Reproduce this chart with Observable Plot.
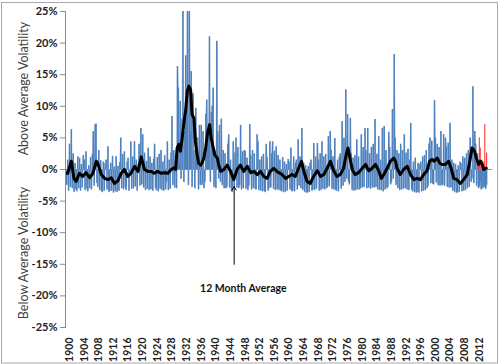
<!DOCTYPE html>
<html><head><meta charset="utf-8">
<script src="https://cdn.jsdelivr.net/npm/d3@7"></script>
<script src="https://cdn.jsdelivr.net/npm/@observablehq/plot@0.6"></script>
<style>
body{margin:0;background:#fff}
#chart{width:500px;height:364px}
</style></head><body><div id="chart"></div>
<script>
// Monthly-ish deviations of volatility from average (%), quarterly samples starting 1899.25
const blueStart = 1899.25, blueStep = 0.25;
const blueVals = [
 -2.5, 1.5, -3.4,
 4.0, -2.8, 6.3, -3.0,  2.5, -3.6, 1.0, -3.2,  -3.5, 2.0, -3.0, 1.8,  -3.4, 0.8, -2.9, 2.2,
 1.5, -3.3, 2.8, -3.1,  -3.5, 0.6, -3.0, 1.9,  -3.2, 2.4, 6.0, -2.6,  7.1, 7.2, -2.2, -2.8,
 3.0, -3.3, 1.4, -3.5,  -3.6, 1.2, -3.4, 0.9,  1.5, -3.2, 3.6, -3.6,  -3.5, 1.0, -3.4, 2.1,
 -3.7, 0.4, -3.5, 2.0,  -3.6, 0.5, -3.4, 1.1,  5.0, -3.0, 2.4, -3.2,  2.8, -2.9, -3.3, 1.2,
 1.8, -3.4, -1.0, 4.4,  -3.1, 2.0, -3.0, 4.4,  -2.7, 1.5, -3.4, 0.8,  4.0, -2.6, 6.5, -2.4,
 5.5, -2.9, 2.6, -3.3,  1.3, -3.1, 3.4, -3.3,  2.0, -3.2, 1.0, -3.4,  1.6, 4.0, -3.0, -3.3,
 1.9, -3.5, 2.4, -3.1,  3.0, -3.3, 1.2, -3.4,  2.2, -3.2, -2.0, 4.4,  -3.3, 1.5, -3.1, 2.6,
 8.4, -2.5, 3.0, -2.9,  2.0, -3.0, 16.3, 12.9,  1.0, 10.8, -1.5, 8.0,  30, -2.0, 6.0, 18.0,
 8.0, 30, -2.5, 28,  6.0, 15.5, -2.8, 12.0,  3.0, -3.0, 9.7, 1.5,  5.0, -3.2, 7.0, -2.5,
 7.0, -2.5, 6.0, -3.0,  -2.0, 8.7, 11.0, 4.0,  5.0, 21.0, -2.0, 9.0,  10.0, 12.9, -2.8, 3.0,
 -3.0, 20.3, 6.0, -1.5,  7.0, -2.0, 8.0, -2.5,  3.0, -3.0, 2.5, -3.0,  -2.8, 4.0, 5.5, -2.9,
 1.5, -3.5, -3.6, 4.4,  -2.7, 2.6, 5.0, -2.9,  3.5, -3.0, -2.5, 7.0,  -3.2, 2.8, -3.0, 3.0,
 2.9, -3.1, 1.8, -3.3,  -2.6, 7.1, 2.2, -3.2,  3.0, -3.0, 2.5, -3.1,  -3.2, 5.5, 4.4, -3.3,
 1.5, -3.4, 2.0, -3.5,  2.4, -3.5, -3.6, 4.0,  1.8, -3.4, -3.0, 4.4,  -2.9, 2.5, 4.4, -3.1,
 2.9, -3.3, 3.6, -3.2,  2.2, -3.3, 1.5, -3.4,  -3.5, 1.9, -3.6, 1.2,  -3.6, 0.8, -3.4, 1.6,
 1.2, -3.2, 3.4, -3.5,  -3.4, 2.0, -3.5, 1.0,  1.5, -3.2, 4.7, -2.6,  2.0, -3.0, 6.5, -3.3,
 1.0, -3.6, 0.6, -3.7,  -3.7, 0.5, -3.6, 1.0,  1.5, -3.4, -3.2, 4.1,  -3.3, 2.0, -3.1, 4.1,
 1.5, -3.4, 2.5, -3.3,  4.4, -3.1, 2.0, -3.2,  2.4, -3.0, -2.8, 5.2,  -2.7, 6.0, 3.0, -3.1,
 2.0, -3.2, 4.9, -3.3,  -3.4, 1.5, -3.5, 2.0,  2.5, -3.1, 7.6, -2.6,  5.0, -2.0, 12.6, -1.5,
 8.7, -2.0, -2.4, 8.1,  2.5, -3.3, 1.8, -3.4,  2.2, -3.3, 4.7, -3.2,  2.0, -3.2, -3.0, 5.5,
 -2.9, 3.5, -2.8, 6.5,  3.0, -3.0, 6.5, -2.9,  2.5, -3.1, 3.5, -2.9,  4.0, -2.9, 7.9, -2.8,
 2.4, -3.2, 5.2, -3.3,  1.5, -3.3, 6.5, -3.5,  6.8, -3.2, 3.0, -3.0,  -2.8, 5.9, 3.5, -2.4,
 -2.0, 9.5, -1.5, 18.2,  5.0, -2.5, 3.0, -3.0,  2.5, -3.3, 4.0, -3.2,  3.0, -3.1, 5.5, -3.0,
 2.6, -3.2, 3.2, -3.3,  1.5, 7.3, -3.2, -3.5,  1.2, -3.6, 1.8, -3.7,  -3.6, 1.0, -3.7, 0.8,
 1.2, -3.5, 2.0, -3.4,  2.2, -3.3, 3.0, -3.0,  -2.6, 4.0, 5.0, -2.2,  4.5, -2.3, -2.4, 10.9,
 5.0, -2.1, 4.0, -2.5,  3.5, -2.6, 6.0, -2.5,  -2.5, 5.5, -2.6, 5.0,  3.6, -2.8, 4.2, -2.9,
 7.3, -2.9, 1.5, -3.4,  1.0, -3.6, 0.8, -3.7,  -3.7, 0.6, -3.6, 1.2,  0.9, -3.5, 2.0, -3.4,
 1.8, -3.3, 2.5, -3.0,  3.0, -2.8, 5.0, -2.0,  -1.5, 13.1, -2.2, 6.0,  4.0, -2.6, 2.5, -3.0,
 -2.8, -2.0, -3.2, -2.9,  -3.0, -2.6, -2.8, -3.1,
 -2.5
];
// 12 month average
const blackYear = [1899.2,1899.5,1900.5,1901.2,1901.8,1902.7,1903.6,1904.5,1905.5,1906.4,1907.3,1907.7,1908.7,1909.6,1910.5,1911.4,1912.3,1913.2,1914.1,1915.0,1915.9,1916.8,1917.8,1918.7,1919.6,1920.5,1921.4,1922.3,1923.2,1924.1,1925.0,1926.0,1926.9,1927.8,1928.7,1929.0,1929.4,1929.9,1930.3,1930.8,1931.2,1931.7,1932.2,1932.6,1933.1,1933.5,1934.0,1934.4,1934.9,1935.3,1935.8,1936.2,1936.7,1937.2,1937.8,1938.3,1938.7,1939.3,1939.7,1940.4,1940.8,1941.3,1942.2,1943.1,1944.0,1944.9,1945.8,1946.7,1947.6,1948.6,1949.5,1950.4,1951.3,1952.2,1953.1,1954.0,1954.9,1955.8,1956.7,1957.2,1958.1,1959.0,1959.9,1960.8,1961.7,1962.6,1963.4,1964.0,1964.9,1965.8,1966.7,1967.7,1968.6,1969.5,1970.4,1971.3,1972.2,1973.1,1974.0,1974.9,1975.6,1976.1,1976.8,1977.4,1978.1,1979.0,1980.0,1980.9,1981.8,1982.7,1983.6,1984.5,1985.2,1985.9,1986.8,1987.7,1988.6,1989.1,1989.5,1990.4,1991.3,1992.3,1993.2,1994.1,1995.0,1995.9,1996.8,1997.7,1998.4,1999.1,1999.7,2000.5,2001.2,2001.8,2002.7,2003.6,2004.3,2005.0,2005.9,2006.8,2007.7,2008.7,2009.4,2010.0,2010.7,2011.2,2011.8,2012.3,2012.8,2013.2,2013.9];
const blackVal = [-0.6,-0.6,1.3,-1.4,-1.9,-0.6,-1.1,-0.5,-1.3,-0.6,1.3,1.0,-0.8,-1.4,-1.6,-1.3,-2.2,-1.8,-0.6,0.0,-1.1,-0.6,0.5,-0.3,2.0,0.0,-0.3,-0.3,-0.6,-0.3,-0.6,-0.5,-0.6,0.0,0.3,0.0,3.4,4.0,2.9,5.0,7.1,9.2,12.4,13.2,12.6,8.7,8.1,4.4,2.3,1.0,0.7,1.0,1.8,3.4,6.0,7.1,5.0,3.4,2.3,1.8,0.7,-0.3,0.0,0.7,-0.3,-1.6,0.0,0.7,-0.3,0.5,-0.5,-0.3,-0.8,-0.3,-1.1,-1.4,-0.3,0.2,-0.3,-0.5,-0.8,-1.4,-1.1,-0.8,-1.1,0.2,1.3,-0.2,-1.9,-2.2,-1.1,-0.2,-1.1,-0.8,0.2,1.3,-0.2,-1.1,-0.8,0.2,2.3,3.4,1.3,-0.2,-0.8,-0.5,0.2,0.8,-0.2,0.2,0.8,-0.2,-1.4,-0.8,0.2,1.3,1.8,1.3,0.2,-0.8,0.0,0.5,-0.8,-1.6,-1.4,-1.6,-0.8,-0.2,1.3,1.6,1.3,1.8,1.0,0.8,0.8,1.3,0.2,-1.4,-1.6,-2.2,-1.6,-0.8,1.3,3.4,2.9,1.8,0.8,1.3,0.8,0.0,0.2];
// most recent period (red)
const redYear = [2011.75,2012.0,2012.25,2012.5,2012.75,2013.0,2013.25,2013.5,2013.75,2014.0];
const redVal = [1.0,5.0,3.4,0.8,1.5,0.6,1.2,7.1,0.5,2.6];
const yDomain = [-25, 25];
const yTicks = d3.range(-25, 26, 5);
const xTicks = d3.range(1900, 2013, 4);
const yTitles = [{y: 12.8, t: "Above Average Volatility"}, {y: -13.2, t: "Below Average Volatility"}];
const note = {x: 1947.5, y: -18.9, t: "12 Month Average"};
const arrowAt = {x: 1945, y1: -15, y2: -2.7};

const blue = blueVals.map((v, i) => ({x: blueStart + i * blueStep, v}));
const black = blackYear.map((x, i) => ({x, v: blackVal[i]}));
const red = redYear.map((x, i) => ({x, v: redVal[i]}));
const xLabels = xTicks.map(t => ({x: t, y: yDomain[0], t: String(t)}));

const plot = Plot.plot({
  width: 500, height: 364,
  marginLeft: 65, marginRight: 8, marginTop: 11, marginBottom: 37,
  style: {fontFamily: "Lato, 'Open Sans', sans-serif", background: "transparent"},
  x: {domain: [1898.9, 2015.6], axis: null},
  y: {domain: yDomain, label: null},
  marks: [
    Plot.line(blue, {x: "x", y: "v", stroke: "#7fa3d3", strokeWidth: 0.6, clip: true}),
    Plot.ruleX(blue, {x: "x", y1: 0, y2: "v", stroke: "#4f81bd", strokeWidth: 1.5, clip: true}),
    Plot.ruleX(red, {x: "x", y1: 0, y2: "v", stroke: "#ff2a2a", strokeWidth: 1}),
    Plot.ruleY([0], {stroke: "#8c8c8c"}),
    Plot.line(black, {x: "x", y: "v", stroke: "#000", strokeWidth: 3, strokeLinejoin: "round"}),
    Plot.frame({anchor: "left", stroke: "#8c8c8c"}),
    Plot.axisY({ticks: yTicks, tickFormat: d => d + "%", tickSize: 5, tickPadding: 3, fontWeight: "bold", fontSize: 11, stroke: "#8c8c8c", fill: "#222", label: null}),
    Plot.text(xLabels, {x: "x", y: "y", text: "t", rotate: -90, textAnchor: "end", dy: 10, fontWeight: "bold", fontSize: 10.5, fill: "#222"}),
    Plot.arrow([arrowAt], {x1: "x", x2: "x", y1: "y1", y2: "y2", stroke: "#000", strokeWidth: 1, headLength: 6}),
    Plot.text([note], {x: "x", y: "y", text: "t", fontWeight: "bold", fontSize: 10.5, fill: "#111"}),
    Plot.text(yTitles, {y: "y", text: "t", frameAnchor: "left", textAnchor: "middle", dx: -42, rotate: -90, fontSize: 12.5, fill: "#404040"})
  ]
});
d3.select(plot).insert("rect", ":first-child")
  .attr("x", 1.5).attr("y", 2.5).attr("width", 496).attr("height", 360.5)
  .attr("fill", "none").attr("stroke", "#a8a8a8");
document.getElementById("chart").appendChild(plot);
</script></body></html>
